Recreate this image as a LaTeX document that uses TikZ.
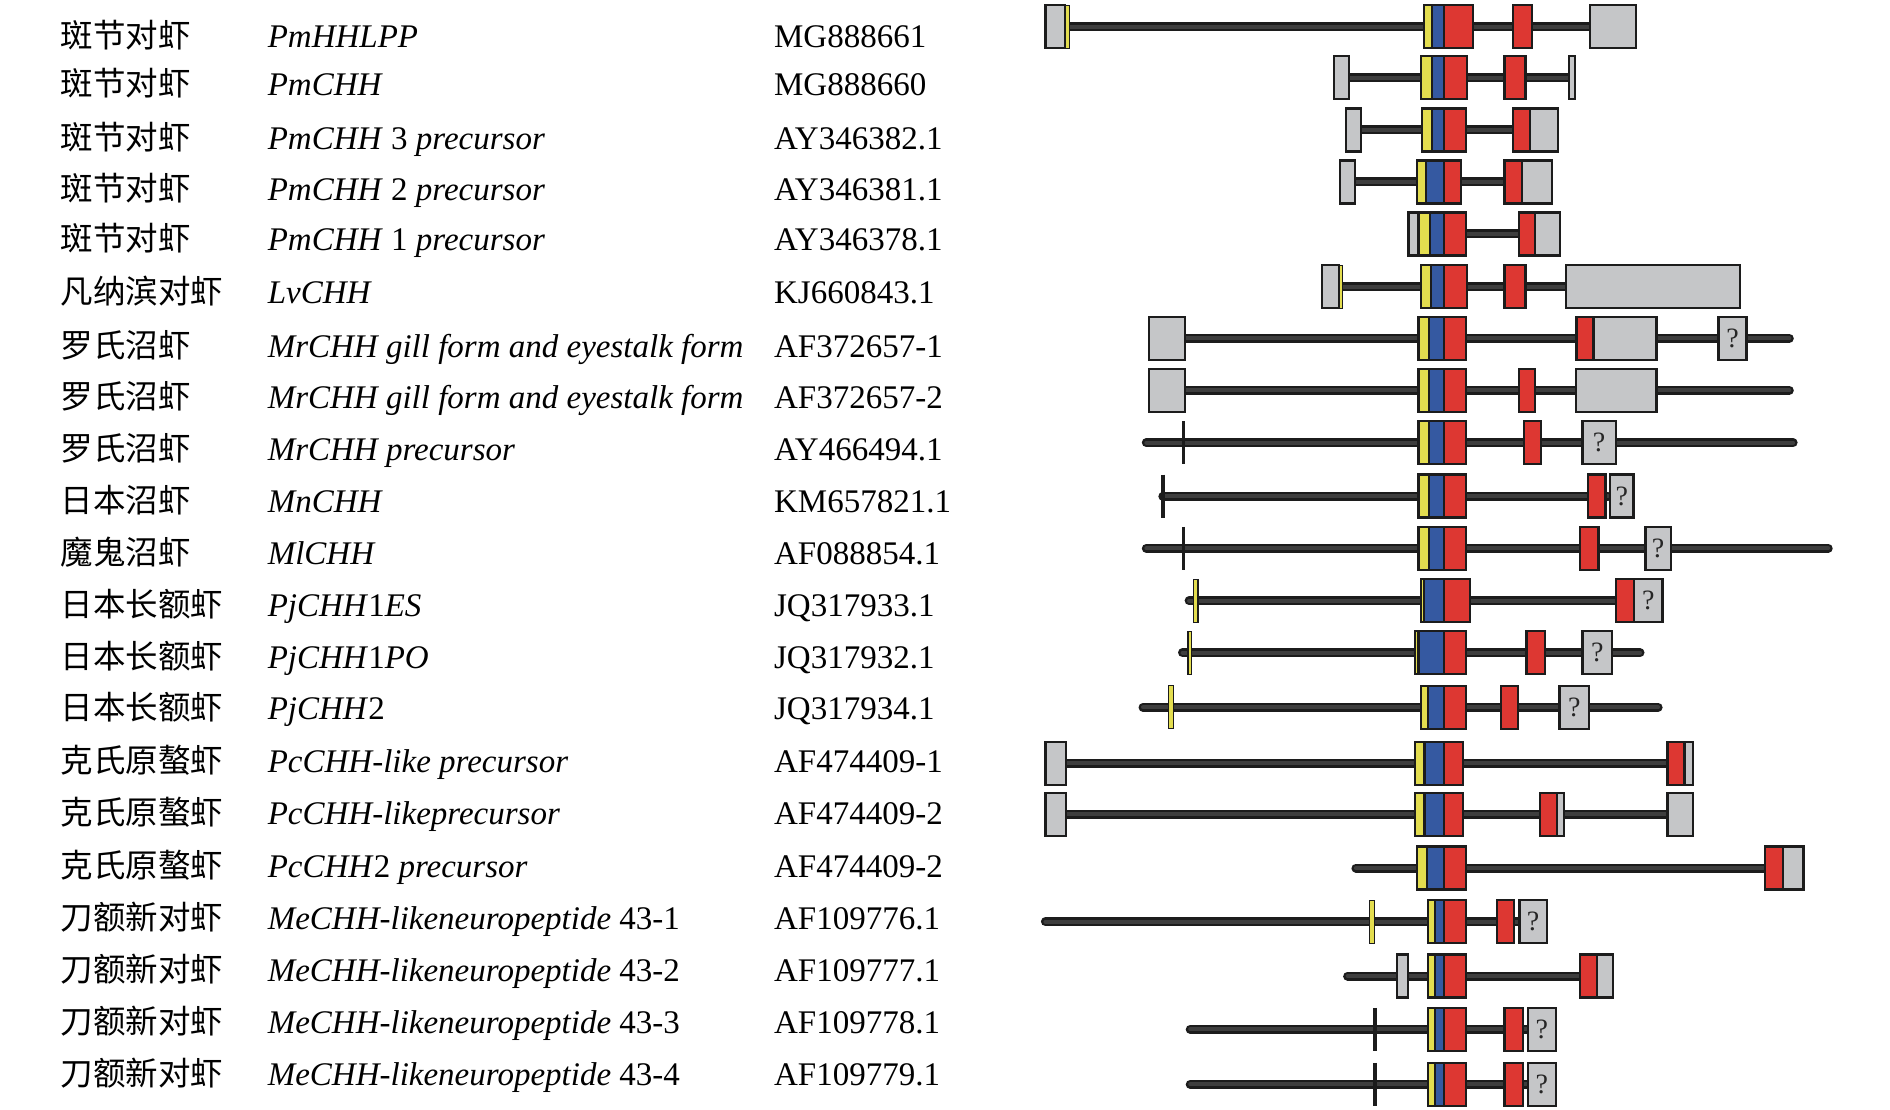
\documentclass[tikz,border=0pt]{standalone}
\usepackage{fontspec}
\setmainfont{Liberation Serif}
\newfontfamily\cjk{Noto Sans CJK SC}
\definecolor{cgrey}{HTML}{C5C6C8}
\definecolor{cyel}{HTML}{E3DD4F}
\definecolor{cblue}{HTML}{3559A1}
\definecolor{cred}{HTML}{DD3732}
\definecolor{cline}{HTML}{1C1C1C}
\definecolor{cin}{HTML}{3E3E3E}
\tikzset{
 exon/.style={draw=cline, line width=2.2pt},
 intron/.style={draw=cline, line width=2.5pt, double=cin, double distance=4pt, line cap=round},
 tickline/.style={draw=cline, line width=3.6pt},
 qmark/.style={font=\fontsize{28}{28}\selectfont, text=black!85, inner sep=0pt},
 cn/.style={anchor=base west, font=\cjk\fontsize{32.5}{36}\selectfont, inner sep=0pt},
 gn/.style={anchor=base west, font=\fontsize{33}{36}\selectfont\itshape, inner sep=0pt},
 acc/.style={anchor=base west, font=\fontsize{33}{36}\selectfont, inner sep=0pt},
}
\newcommand\gEx[4]{\filldraw[exon,fill=#4] (#1,#3-21.5) rectangle (#2,#3+21.5);}
\newcommand\gIn[3]{\draw[intron] (#1,#3) -- (#2,#3);}
\newcommand\gQ[3]{\filldraw[exon,fill=cgrey] (#1,#3-21.5) rectangle (#2,#3+21.5); \node[qmark] at ({(#1+#2)/2},#3) {?};}
\newcommand\gVt[2]{\draw[tickline] (#1,#2-21.5) -- (#1,#2+21.5);}
\newcommand\gYt[3]{\filldraw[draw=cline,line width=1.2pt,fill=cyel] (#1,#3-21.5) rectangle (#2,#3+21.5);}
\newcommand\gCl[5]{\gEx{#2}{#3}{#1}{cyel}\gEx{#3}{#4}{#1}{cblue}\gEx{#4}{#5}{#1}{cred}}
\begin{document}
\begin{tikzpicture}[x=1pt,y=-1pt]
\useasboundingbox (0,0) rectangle (1890,1110);
% ---------- text columns ----------
\node[cn] (c1) at (60.3,47.2) {斑节对虾};
\node[gn] (g1) at (267.6,47.2) {PmHHLPP};
\node[acc] (a1) at (773.9,47.2) {MG888661};
\node[cn] (c2) at (60.3,95.4) {斑节对虾};
\node[gn] (g2) at (267.6,95.4) {PmCHH};
\node[acc] (a2) at (773.9,95.4) {MG888660};
\node[cn] (c3) at (60.3,149.6) {斑节对虾};
\node[gn] (g3) at (267.6,149.6) {PmCHH \textup{3} precursor};
\node[acc] (a3) at (773.9,149.6) {AY346382.1};
\node[cn] (c4) at (60.3,200.2) {斑节对虾};
\node[gn] (g4) at (267.6,200.2) {PmCHH \textup{2} precursor};
\node[acc] (a4) at (773.9,200.2) {AY346381.1};
\node[cn] (c5) at (60.3,250.9) {斑节对虾};
\node[gn] (g5) at (267.6,250.9) {PmCHH \textup{1} precursor};
\node[acc] (a5) at (773.9,250.9) {AY346378.1};
\node[cn] (c6) at (60.3,303.9) {凡纳滨对虾};
\node[gn] (g6) at (267.6,303.9) {LvCHH};
\node[acc] (a6) at (773.9,303.9) {KJ660843.1};
\node[cn] (c7) at (60.3,357) {罗氏沼虾};
\node[gn] (g7) at (267.6,357) {MrCHH gill form and eyestalk form};
\node[acc] (a7) at (773.9,357) {AF372657-1};
\node[cn] (c8) at (60.3,408.8) {罗氏沼虾};
\node[gn] (g8) at (267.6,408.8) {MrCHH gill form and eyestalk form};
\node[acc] (a8) at (773.9,408.8) {AF372657-2};
\node[cn] (c9) at (60.3,460.6) {罗氏沼虾};
\node[gn] (g9) at (267.6,460.6) {MrCHH precursor};
\node[acc] (a9) at (773.9,460.6) {AY466494.1};
\node[cn] (c10) at (60.3,512.4) {日本沼虾};
\node[gn] (g10) at (267.6,512.4) {MnCHH};
\node[acc] (a10) at (773.9,512.4) {KM657821.1};
\node[cn] (c11) at (60.3,564.3) {魔鬼沼虾};
\node[gn] (g11) at (267.6,564.3) {MlCHH};
\node[acc] (a11) at (773.9,564.3) {AF088854.1};
\node[cn] (c12) at (60.3,616.1) {日本长额虾};
\node[gn] (g12) at (267.6,616.1) {PjCHH\textup{1}ES};
\node[acc] (a12) at (773.9,616.1) {JQ317933.1};
\node[cn] (c13) at (60.3,668) {日本长额虾};
\node[gn] (g13) at (267.6,668) {PjCHH\textup{1}PO};
\node[acc] (a13) at (773.9,668) {JQ317932.1};
\node[cn] (c14) at (60.3,719.8) {日本长额虾};
\node[gn] (g14) at (267.6,719.8) {PjCHH\textup{2}};
\node[acc] (a14) at (773.9,719.8) {JQ317934.1};
\node[cn] (c15) at (60.3,772.8) {克氏原螯虾};
\node[gn] (g15) at (267.6,772.8) {PcCHH-like precursor};
\node[acc] (a15) at (773.9,772.8) {AF474409-1};
\node[cn] (c16) at (60.3,824.6) {克氏原螯虾};
\node[gn] (g16) at (267.6,824.6) {PcCHH-likeprecursor};
\node[acc] (a16) at (773.9,824.6) {AF474409-2};
\node[cn] (c17) at (60.3,877.7) {克氏原螯虾};
\node[gn] (g17) at (267.6,877.7) {PcCHH\textup{2} precursor};
\node[acc] (a17) at (773.9,877.7) {AF474409-2};
\node[cn] (c18) at (60.3,929.5) {刀额新对虾};
\node[gn] (g18) at (267.6,929.5) {MeCHH-likeneuropeptide \textup{43-1}};
\node[acc] (a18) at (773.9,929.5) {AF109776.1};
\node[cn] (c19) at (60.3,981.3) {刀额新对虾};
\node[gn] (g19) at (267.6,981.3) {MeCHH-likeneuropeptide \textup{43-2}};
\node[acc] (a19) at (773.9,981.3) {AF109777.1};
\node[cn] (c20) at (60.3,1033.2) {刀额新对虾};
\node[gn] (g20) at (267.6,1033.2) {MeCHH-likeneuropeptide \textup{43-3}};
\node[acc] (a20) at (773.9,1033.2) {AF109778.1};
\node[cn] (c21) at (60.3,1085) {刀额新对虾};
\node[gn] (g21) at (267.6,1085) {MeCHH-likeneuropeptide \textup{43-4}};
\node[acc] (a21) at (773.9,1085) {AF109779.1};
% ---------- gene structures ----------
% row 1
\gIn{1069.5}{1590}{26.7}
\gEx{1045.4}{1065}{26.7}{cgrey}\gYt{1065}{1069.5}{26.7}
\gCl{26.7}{1423.9}{1431.6}{1444.2}{1473.3}
\gEx{1513.3}{1532}{26.7}{cred}
\gEx{1590.1}{1635.7}{26.7}{cgrey}
% row 2
\gIn{1349}{1569}{77.7}
\gEx{1333.9}{1349.3}{77.7}{cgrey}
\gCl{77.7}{1421.2}{1431.6}{1444.2}{1467.2}
\gEx{1504.5}{1525.4}{77.7}{cred}
\gEx{1569.3}{1574.8}{77.7}{cgrey}
% row 3
\gIn{1360.8}{1513}{130}
\gEx{1346}{1360.8}{130}{cgrey}
\gCl{130}{1422.2}{1431.6}{1444.2}{1466.1}
\gEx{1513.3}{1530.3}{130}{cred}
\gEx{1530.3}{1558.3}{130}{cgrey}
% row 4
\gIn{1354.8}{1504.5}{182}
\gEx{1340}{1354.8}{182}{cgrey}
\gCl{182}{1417.3}{1426.1}{1444.2}{1460.7}
\gEx{1504.5}{1522.1}{182}{cred}
\gEx{1522.1}{1552.3}{182}{cgrey}
% row 5
\gIn{1466}{1518.8}{234}
\gEx{1408.5}{1418.4}{234}{cgrey}
\gCl{234}{1418.4}{1429.9}{1444.2}{1466.1}
\gEx{1518.8}{1535.3}{234}{cred}
\gEx{1535.3}{1560}{234}{cgrey}
% row 6
\gIn{1342.7}{1566}{286.7}
\gEx{1321.9}{1338.9}{286.7}{cgrey}\gYt{1338.9}{1342.7}{286.7}
\gCl{286.7}{1421.2}{1431}{1444.2}{1467.2}
\gEx{1504.5}{1525.4}{286.7}{cred}
\gEx{1566}{1739.9}{286.7}{cgrey}
% row 7
\gIn{1185}{1789.3}{338.3}
\gEx{1149}{1185.3}{338.3}{cgrey}
\gCl{338.3}{1418.4}{1428.8}{1444.2}{1466.1}
\gEx{1576.4}{1593.4}{338.3}{cred}
\gEx{1593.4}{1656.5}{338.3}{cgrey}
\gQ{1718.5}{1746.5}{338.3}
% row 8
\gIn{1185}{1789.3}{390.3}
\gEx{1149}{1185.3}{390.3}{cgrey}
\gCl{390.3}{1418.4}{1428.8}{1444.2}{1466.1}
\gEx{1518.8}{1535.3}{390.3}{cred}
\gEx{1575.9}{1656.5}{390.3}{cgrey}
% row 9
\gIn{1146.3}{1793.1}{442.7}
\gVt{1183.6}{442.7}
\gCl{442.7}{1418.4}{1428.8}{1444.2}{1466.1}
\gEx{1523.7}{1541.3}{442.7}{cred}
\gQ{1582.4}{1615.9}{442.7}
% row 10
\gIn{1162.8}{1608}{496}
\gVt{1162.8}{496}
\gCl{496}{1418.4}{1428.8}{1444.2}{1466.1}
\gEx{1587.9}{1605.5}{496}{cred}
\gQ{1609.9}{1633.5}{496}
% row 11
\gIn{1146.3}{1828.2}{548.3}
\gVt{1183.6}{548.3}
\gCl{548.3}{1418.4}{1428.8}{1444.2}{1466.1}
\gEx{1579.7}{1598.4}{548.3}{cred}
\gQ{1645.5}{1670.8}{548.3}
% row 12
\gIn{1189.1}{1634}{600.7}
\gYt{1193.5}{1197.9}{600.7}
\gCl{600.7}{1420.6}{1423.9}{1444.2}{1470}
\gEx{1615.9}{1634}{600.7}{cred}
\gQ{1634}{1662.5}{600.7}
% row 13
\gIn{1182.5}{1640}{652.7}
\gYt{1188}{1191.8}{652.7}
\gCl{652.7}{1415.1}{1418.4}{1444.2}{1466.1}
\gEx{1526.5}{1545.1}{652.7}{cred}
\gQ{1582.4}{1612.1}{652.7}
% row 14
\gIn{1143}{1658.1}{707.3}
\gYt{1168.8}{1173.7}{707.3}
\gCl{707.3}{1420.6}{1427.7}{1444.2}{1466.1}
\gEx{1500.7}{1517.7}{707.3}{cred}
\gQ{1559.4}{1589}{707.3}
% row 15
\gIn{1066}{1667.5}{763.3}
\gEx{1045.4}{1066.2}{763.3}{cgrey}
\gCl{763.3}{1414.6}{1424.4}{1444.2}{1462.8}
\gEx{1667.5}{1684.5}{763.3}{cred}
\gEx{1684.5}{1692.7}{763.3}{cgrey}
% row 16
\gIn{1066}{1667.5}{814.3}
\gEx{1045.4}{1066.2}{814.3}{cgrey}
\gCl{814.3}{1414.6}{1424.4}{1444.2}{1462.8}
\gEx{1540.2}{1556.7}{814.3}{cred}
\gEx{1556.7}{1563.8}{814.3}{cgrey}
\gEx{1667.5}{1693.3}{814.3}{cgrey}
% row 17
\gIn{1355.9}{1765}{868}
\gCl{868}{1417.3}{1427.2}{1444.2}{1466.1}
\gEx{1765.1}{1782.7}{868}{cred}
\gEx{1782.7}{1803.5}{868}{cgrey}
% row 18
\gIn{1045.4}{1519}{921.7}
\gYt{1369.6}{1374.5}{921.7}
\gCl{921.7}{1427.7}{1434.9}{1444.2}{1466.1}
\gEx{1496.9}{1513.9}{921.7}{cred}
\gQ{1519.4}{1546.8}{921.7}
% row 19
\gIn{1347.6}{1579.7}{976}
\gEx{1397}{1408}{976}{cgrey}
\gCl{976}{1427.7}{1434.9}{1444.2}{1466.1}
\gEx{1579.7}{1597.2}{976}{cred}
\gEx{1597.2}{1612.6}{976}{cgrey}
% row 20
\gIn{1190.2}{1527.6}{1029.3}
\gVt{1375.1}{1029.3}
\gCl{1029.3}{1427.7}{1434.9}{1444.2}{1466.1}
\gEx{1504.5}{1522.6}{1029.3}{cred}
\gQ{1527.6}{1556.1}{1029.3}
% row 21
\gIn{1190.2}{1527.6}{1084.3}
\gVt{1375.1}{1084.3}
\gCl{1084.3}{1427.7}{1434.9}{1444.2}{1466.1}
\gEx{1504.5}{1522.6}{1084.3}{cred}
\gQ{1527.6}{1556.1}{1084.3}
\end{tikzpicture}
\end{document}
